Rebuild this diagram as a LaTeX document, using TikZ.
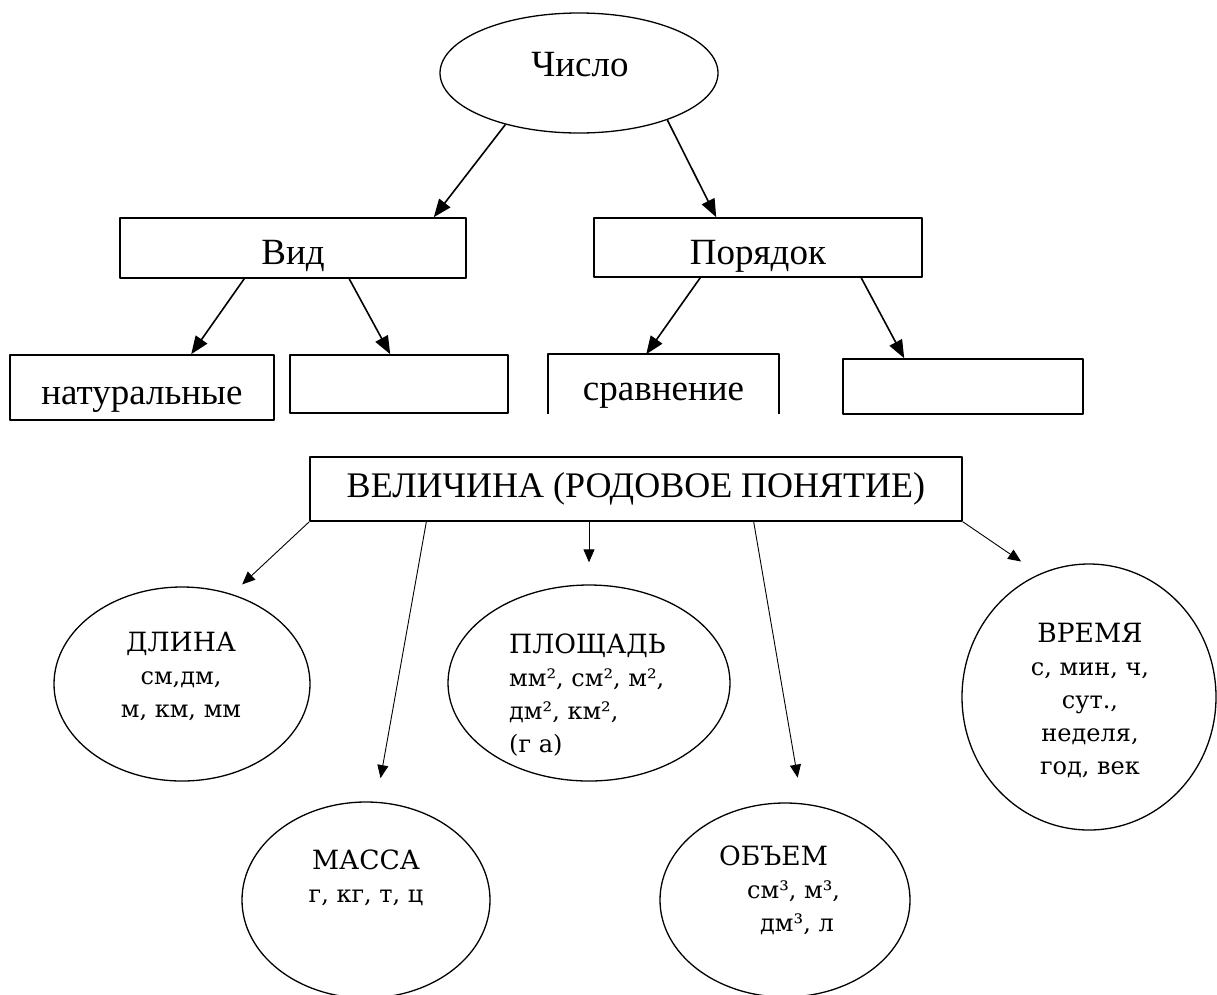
\documentclass[tikz,border=0pt]{standalone}
\usepackage{fontspec}
\setmainfont{Liberation Serif}
\newfontfamily\valfont{DejaVu Serif}
\usetikzlibrary{shapes.geometric,arrows.meta}
\newcommand{\valhead}[1]{{\fontsize{26.5}{33}\selectfont #1}}
\begin{document}
\begin{tikzpicture}[x=1pt,y=-1pt,line join=round,
	topfont/.style={font=\fontsize{37}{44}\selectfont},
	box/.style={draw,line width=1.6pt,inner sep=0pt,topfont,text height=37pt,text depth=4pt},
	oval/.style={draw,ellipse,line width=1.3pt,inner sep=0pt},
	val/.style={font=\valfont\fontsize{24}{33}\selectfont,inner sep=0pt,align=center},
	big/.style={-{Triangle[length=18pt,width=14pt]},line width=1.6pt},
	small/.style={-{Triangle[length=13pt,width=11pt]},line width=0.9pt}]
	\useasboundingbox (0,0) rectangle (1217,994);
	% Число
	\node[oval,minimum width=278,minimum height=120] (chislo) at (579,73) {};
	\node[topfont] (chislotxt) at (580,65) {Число};
	\node[box,minimum width=346,minimum height=60] (vid) at (293,248) {Вид};
	\node[box,minimum width=328,minimum height=59] (poryadok) at (758,247.5) {Порядок};
	\node[box,minimum width=264,minimum height=65] (nat) at (142,387.5) {натуральные};
	\node[box,minimum width=218,minimum height=58] (leer1) at (399,384) {};
	\node[box,draw=none,minimum width=229,minimum height=58] (sravn) at (663.5,384) {сравнение};
	\draw[line width=1.6pt] (sravn.south west)--(sravn.north west)--(sravn.north east)--(sravn.south east);
	\node[box,minimum width=240,minimum height=55] (leer2) at (963,386.5) {};
	\draw[big] (chislo.215)--([xshift=-33]vid.north east);
	\draw[big] (chislo.332)--([xshift=123]poryadok.north west);
	\draw[big] ([xshift=125]vid.south west)--([xshift=182]nat.north west);
	\draw[big] ([xshift=230]vid.south west)--([xshift=101]leer1.north west);
	\draw[big] ([xshift=107]poryadok.south west)--([xshift=98]sravn.north west);
	\draw[big] ([xshift=268]poryadok.south west)--([xshift=62]leer2.north west);
	% Величина
	\node[draw,line width=1.3pt,inner sep=0pt,minimum width=652,minimum height=64,
		font=\fontsize{36}{43}\selectfont] (vel) at (636,489) {ВЕЛИЧИНА (РОДОВОЕ ПОНЯТИЕ)};
	\node[oval,minimum width=256,minimum height=194] (dlina) at (182,684) {};
	\node[oval,minimum width=248,minimum height=196] (massa) at (366,900) {};
	\node[oval,minimum width=282,minimum height=196] (ploshad) at (589,683) {};
	\node[oval,minimum width=250,minimum height=194] (obyem) at (785,900) {};
	\node[oval,minimum width=254,minimum height=266] (vremya) at (1089,697) {};
	\node[val] (dlinatxt) at (181,676) {\valhead{ДЛИНА}\\см,дм,\\м, км, мм};
	\node[val] (massatxt) at (366,878) {\valhead{МАССА}\\г, кг, т, ц};
	\node[val,align=left,anchor=west] (ploshadtxt) at (509,695) {\valhead{ПЛОЩАДЬ}\\мм², см², м²,\\дм², км²,\\(г а)};
	\node[val,align=left,anchor=west] (obyemtxt) at (719,890) {\valhead{ОБЪЕМ}\\\hspace*{28pt}см³, м³,\\\hspace*{41pt}дм³, л};
	\node[val] (vremyatxt) at (1090,700) {\valhead{ВРЕМЯ}\\с, мин, ч,\\сут.,\\неделя,\\год, век};
	\draw[small,shorten >=14pt] (vel.south west)--(dlina.61);
	\draw[small,shorten >=24pt] ([xshift=117]vel.south west)--(massa.84);
	\draw[small,shorten >=22pt] (vel.south -| ploshad.north)--(ploshad.north);
	\draw[small,shorten >=26pt] ([xshift=-209]vel.south east)--(obyem.80);
	\draw[small,shorten >=22pt] (vel.south east)--(vremya.112);
\end{tikzpicture}
\end{document}
